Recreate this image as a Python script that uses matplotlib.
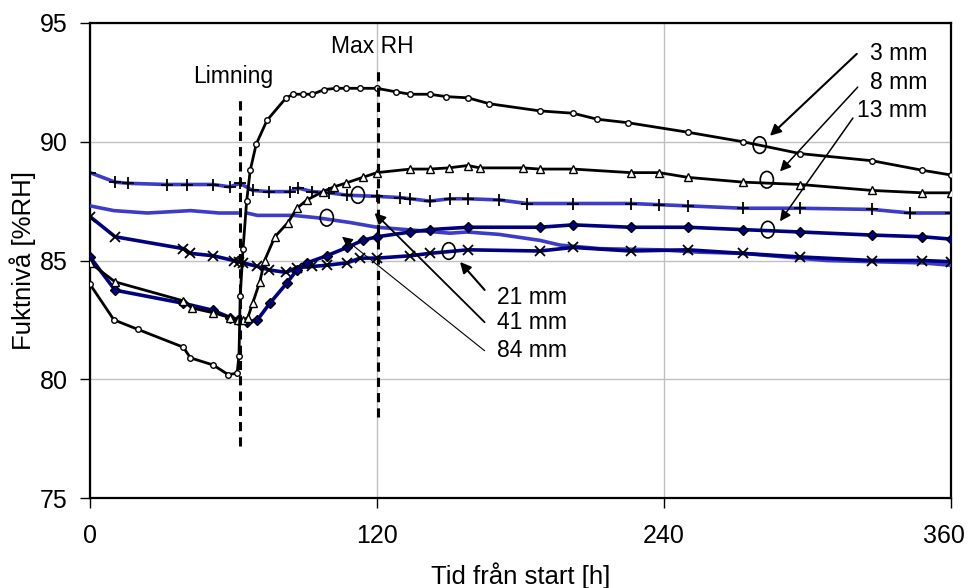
import numpy as np
import matplotlib
matplotlib.use("Agg")
import matplotlib.pyplot as plt
import matplotlib.transforms as mtransforms
from matplotlib.patches import Ellipse

plt.rcParams['font.family'] = ['Liberation Sans', 'DejaVu Sans']

# Mätdata, fuktnivå [%RH] mot tid [h] för olika djup
t_3mm = [0, 10, 20, 39, 42, 51.5, 57.7, 61.5, 62.3, 62.8, 64, 65.5, 67, 69.5, 74, 82, 85, 89, 93,
         98, 103, 107, 113, 120, 128, 134, 142, 149, 158, 167, 188, 202, 212, 225, 250, 273, 297,
         327, 348, 360]
rh_3mm = [84.0, 82.5, 82.1, 81.35, 80.9, 80.6, 80.2, 80.25, 81.0, 83.5, 85.5, 87.5, 88.8, 89.9, 90.9,
          91.85, 92.0, 92.0, 92.0, 92.2, 92.25, 92.25, 92.25, 92.25, 92.1, 92.0, 92.0, 91.9, 91.85,
          91.6, 91.3, 91.2, 90.95, 90.8, 90.4, 90.0, 89.5, 89.2, 88.8, 88.6]

t_8mm = [0, 10.5, 39, 42.6, 51.5, 58.5, 62, 64, 66, 68, 71, 73, 77.3, 82.8, 86.5, 90.7, 97.4, 102,
         107, 114, 120, 134, 142, 150, 158, 163, 181, 188, 202, 226, 238, 250, 273, 297, 327, 348, 360]
rh_8mm = [84.9, 84.1, 83.3, 83.0, 82.8, 82.6, 82.5, 82.5, 82.6, 83.2, 84.1, 85.0, 86.0, 86.6, 87.2,
          87.55, 87.9, 88.1, 88.26, 88.5, 88.7, 88.85, 88.85, 88.9, 89.0, 88.9, 88.9, 88.85, 88.85,
          88.7, 88.7, 88.5, 88.3, 88.2, 87.95, 87.85, 87.85]

t_13mm = [0, 10.5, 39, 51.5, 58.5, 62, 65.6, 70, 75.2, 82.3, 86.5, 90.7, 99, 107.5, 114, 120, 134,
          142, 158, 188, 202, 226, 250, 273, 297, 327, 348, 360]
rh_13mm = [85.15, 83.75, 83.2, 82.9, 82.6, 82.5, 82.4, 82.5, 83.2, 84.05, 84.6, 84.9, 85.2, 85.55,
           85.85, 86.0, 86.2, 86.3, 86.4, 86.4, 86.5, 86.4, 86.4, 86.3, 86.2, 86.07, 86.0, 85.9]

t_21mm = [0, 10.5, 39, 42, 51.5, 60, 62.5, 64, 70, 75, 82, 86.5, 93, 99, 107.5, 113, 120, 134, 142,
          158, 188, 202, 226, 250, 273, 297, 327, 348, 360]
rh_21mm = [86.85, 86.0, 85.5, 85.3, 85.2, 85.0, 84.95, 84.9, 84.75, 84.6, 84.5, 84.7, 84.75, 84.8,
           84.9, 85.1, 85.1, 85.2, 85.3, 85.45, 85.4, 85.55, 85.4, 85.45, 85.3, 85.15, 85.0, 85.0, 84.95]

t_41mm = [0, 10.5, 16, 32, 40.5, 51.5, 58.5, 62.7, 68, 75, 83.6, 87, 93, 100, 107.5, 120, 129.6, 134,
          142, 150.5, 158, 171, 182.7, 202, 226, 238, 250, 273, 297, 327, 343, 360]
rh_41mm = [88.7, 88.3, 88.25, 88.2, 88.2, 88.2, 88.1, 88.25, 87.95, 87.9, 87.9, 88.05, 87.9, 87.85,
           87.75, 87.7, 87.65, 87.6, 87.5, 87.6, 87.6, 87.55, 87.4, 87.4, 87.4, 87.35, 87.3, 87.2,
           87.2, 87.15, 87.0, 87.0]

# givaren för 84 mm saknar värden kring limningen
t_84mm = [0, 10, 24, 42, 54, 61.5, 63, 65.5, 70, 85, 95, 108.7, 120, 132.5, 150.5, 157.6, 171, 188,
          196.5, 213, 238, 255, 273, 308, 327, 348, 360]
rh_84mm = [87.3, 87.1, 87.0, 87.1, 87.0, 87.0, np.nan, 87.0, 86.9, 86.9, 86.8, 86.6, 86.4, 86.3,
           86.15, 86.2, 86.1, 85.85, 85.65, 85.5, 85.45, 85.35, 85.3, 85.0, 84.95, 84.9, 84.8]

x_ticks = [0, 120, 240, 360]
y_ticks = [75, 80, 85, 90, 95]

navy = '#000080'
blue = '#3c3cc8'

fig, ax = plt.subplots(figsize=(9.69, 5.88), dpi=100)
fig.subplots_adjust(left=90/969, right=951/969, top=1-23/588, bottom=1-498/588)

ax.plot(t_84mm, rh_84mm, color=blue, lw=2.6, zorder=3)
ax.plot(t_41mm, rh_41mm, color=blue, lw=2.6, marker='+', ms=9, mec='black', mew=1.3, zorder=3)
ax.plot(t_21mm, rh_21mm, color=navy, lw=2.6, marker='x', ms=7, mec='black', mew=1.3, zorder=4)
ax.plot(t_13mm, rh_13mm, color=navy, lw=2.6, marker='D', ms=5, mfc=navy, mec='black', mew=1.0, zorder=4)
ax.plot(t_8mm, rh_8mm, color='black', lw=2.0, marker='^', ms=6, mfc='white', mec='black', mew=1.0, zorder=5)
ax.plot(t_3mm, rh_3mm, color='black', lw=2.0, marker='o', ms=4, mfc='white', mec='black', mew=1.0, zorder=5)

# markering av limning och max RH
ax.plot([62.7, 62.7], [77.2, 91.8], color='black', lw=2.2, ls=(0, (3, 2)), zorder=6)
ax.plot([120.5, 120.5], [78.4, 93.1], color='black', lw=2.2, ls=(0, (3, 2)), zorder=6)
ax.text(59.8, 92.75, 'Limning', fontsize=16.5, ha='center', va='center')
ax.text(118, 94.0, 'Max RH', fontsize=16.5, ha='center', va='center')

# etiketter med pilar
circles = [(280, 89.86), (283, 88.4), (283.4, 86.3), (150, 85.4), (112, 87.76), (99, 86.8)]
for cx, cy in circles:
    ax.add_patch(Ellipse((cx, cy), 5.5, 0.7, fill=False, ec='black', lw=1.2, zorder=7))

arrows = [((320.6, 93.7), (284.3, 90.25), 1.5),
          ((321, 92.3), (288.5, 88.75), 1.1),
          ((319, 91.0), (288.5, 86.65), 1.1),
          ((165, 83.76), (154.7, 84.94), 1.5),
          ((165, 82.4), (119, 87.0), 1.3),
          ((165, 81.2), (105.4, 86.0), 0.8)]
for start, end, w in arrows:
    ax.annotate('', xy=end, xytext=start,
                arrowprops=dict(arrowstyle='-|>', color='black', lw=w, mutation_scale=16,
                                shrinkA=0, shrinkB=0), zorder=7)

for label, y in [('3 mm', 93.7), ('8 mm', 92.5), ('13 mm', 91.3)]:
    ax.text(350, y, label, fontsize=16.5, ha='right', va='center')
for label, y in [('21 mm', 83.45), ('41 mm', 82.4), ('84 mm', 81.2)]:
    ax.text(170, y, label, fontsize=16.5, ha='left', va='center')

ax.set_xlim(0, 360)
ax.set_ylim(75, 95)
ax.set_xticks(x_ticks)
ax.set_yticks(y_ticks)
ax.grid(True, color='#c0c0c0', lw=1.0)
ax.set_axisbelow(True)
ax.tick_params(axis='both', direction='out', length=7, width=1.0, labelsize=18)
ax.tick_params(axis='x', pad=12)
ax.tick_params(axis='y', pad=9)
for s in ax.spines.values():
    s.set_linewidth(1.6)
    s.set_color('black')

# sista x-etiketten flyttas in lite så att den ryms i bilden
last = ax.get_xticklabels()[-1]
last.set_transform(last.get_transform() + mtransforms.ScaledTranslation(-5/72, 0, fig.dpi_scale_trans))

ax.set_xlabel('Tid från start [h]', fontsize=18.5, labelpad=10)
ax.set_ylabel('Fuktnivå [%RH]', fontsize=18.5, labelpad=3)

fig.savefig('out.png', dpi=100)
